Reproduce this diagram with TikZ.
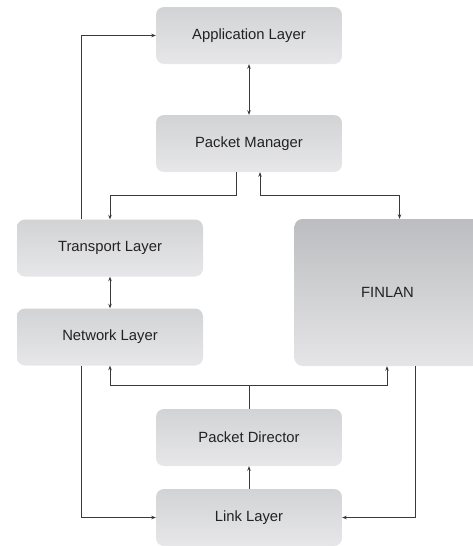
\documentclass[tikz,border=0pt]{standalone}
\usepackage{fontspec}
\setmainfont{Liberation Sans}
\usepackage{tikz}
\usetikzlibrary{positioning, arrows.meta}
\definecolor{boxTop}{HTML}{D2D3D5}
\definecolor{boxBot}{HTML}{E7E7E9}
\definecolor{finTop}{HTML}{BCBDC0}
\definecolor{finBot}{HTML}{E5E5E7}
\definecolor{wireGray}{HTML}{3A3A3A}
\definecolor{textGray}{HTML}{222222}

\begin{document}
\begin{tikzpicture}[x=1pt, y=-1pt, font=\fontsize{14.8}{17}\selectfont,
    layer/.style={rounded corners=8pt, top color=boxTop, bottom color=boxBot,
      minimum width=186pt, minimum height=57pt, inner sep=0pt, text=textGray},
    wire/.style={draw=wireGray, line width=0.9pt, -{Stealth[length=4.5pt, width=3.5pt]}},
    wire2/.style={wire, {Stealth[length=4.5pt, width=3.5pt]}-{Stealth[length=4.5pt, width=3.5pt]}}]
  \useasboundingbox (0,0) rectangle (472,546);
  \node[layer] (app) at (249,35.5) {Application Layer};
  \node[layer] (pm) at (249,143.5) {Packet Manager};
  \node[layer] (tl) at (110,248) {Transport Layer};
  \node[layer] (nl) at (110,337) {Network Layer};
  \node[layer, top color=finTop, bottom color=finBot, minimum height=147pt] (fin) at (387.5,292.5) {FINLAN};
  \node[layer] (pd) at (249,437.5) {Packet Director};
  \node[layer] (ll) at (249,517.5) {Link Layer};

  \draw[wire2] (app.south) -- (pm.north);
  \draw[wire2] (tl.south) -- (nl.north);
  \draw[wire] ([xshift=-29pt]tl.north) |- (app.west);
  \draw[wire] ([xshift=-13pt]pm.south) -- ++(0,23) -| (tl.north);
  \draw[wire2] ([xshift=11pt]pm.south) -- ++(0,23) -| ([xshift=12pt]fin.north);
  \draw[wire] (ll.north) -- (pd.south);
  \draw[draw=wireGray, line width=0.9pt] (pd.north) -- ++(0,-23) coordinate (fan);
  \draw[wire] (fan) -| (nl.south);
  \draw[wire] (fan) -| ([xshift=-0.5pt]fin.south);
  \draw[wire] ([xshift=-29pt]nl.south) |- (ll.west);
  \draw[wire] ([xshift=27.5pt]fin.south) |- (ll.east);
\end{tikzpicture}
\end{document}
